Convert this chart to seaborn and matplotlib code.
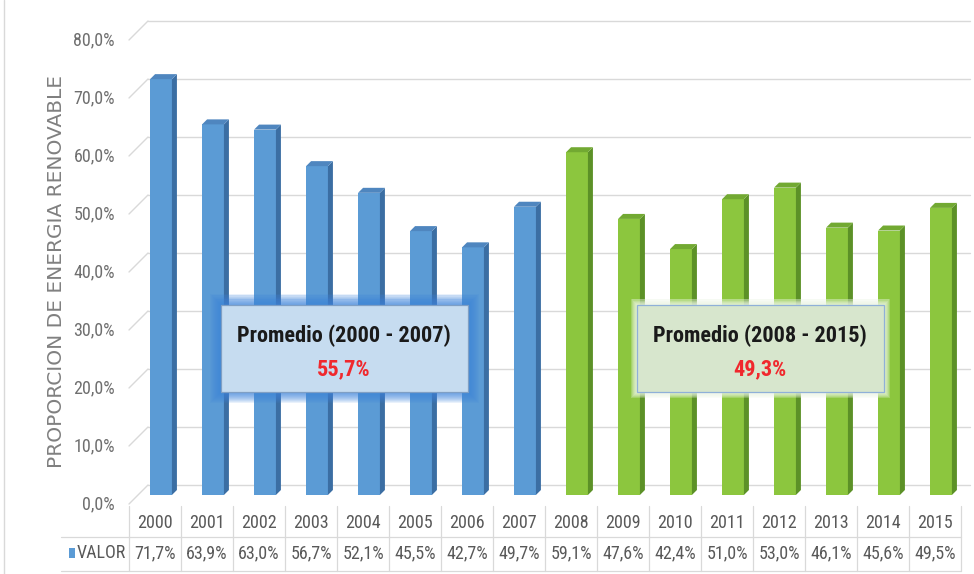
import numpy as np
import pandas as pd
import matplotlib
matplotlib.use("Agg")
import matplotlib.pyplot as plt
import seaborn as sns
from matplotlib import font_manager as fm
from matplotlib.patches import Polygon, Rectangle
from matplotlib.lines import Line2D
from matplotlib.transforms import blended_transform_factory

# ---- data -------------------------------------------------------------
years = [2000, 2001, 2002, 2003, 2004, 2005, 2006, 2007,
         2008, 2009, 2010, 2011, 2012, 2013, 2014, 2015]
valor = [71.7, 63.9, 63.0, 56.7, 52.1, 45.5, 42.7, 49.7,
         59.1, 47.6, 42.4, 51.0, 53.0, 46.1, 45.6, 49.5]
periodos = ["2000 - 2007"] * 8 + ["2008 - 2015"] * 8
y_ticks = [0, 10, 20, 30, 40, 50, 60, 70, 80]
y_label = "PROPORCION DE ENERGIA RENOVABLE"
series_name = "VALOR"
box_title = "Promedio ({})"

df = pd.DataFrame({"anio": [str(y) for y in years], "valor": valor, "periodo": periodos})

# ---- style ------------------------------------------------------------
front = {"2000 - 2007": "#5b9bd5", "2008 - 2015": "#8cc63e"}
side = {"2000 - 2007": "#3b6ea3", "2008 - 2015": "#5c9127"}
top = {"2000 - 2007": "#4f86bf", "2008 - 2015": "#72a932"}
box_fill = {"2000 - 2007": "#c6dcf0", "2008 - 2015": "#d7e6cd"}
grid_c = "#d9d9d9"
text_c = "#595959"

sns.set_theme(style="white")
plt.rcParams["font.family"] = ["DejaVu Sans"]

# pick a narrow face for the numbers and box titles
available = {f.name for f in fm.fontManager.ttflist}
narrow = {"family": ["DejaVu Sans"], "stretch": "condensed"}
for cand in ["Liberation Sans Narrow", "Roboto Condensed", "Open Sans Condensed"]:
    if cand in available:
        narrow = {"family": [cand, "DejaVu Sans"], "stretch": "normal"}
        break
NFAM, NSTR = narrow["family"], narrow["stretch"]
FS = 13          # table / axis numbers

W, H = 974, 574
fig = plt.figure(figsize=(W / 100, H / 100), dpi=100)
fig.patch.set_facecolor("white")

# plot area in pixels (front plane)
X0, X1 = 129, 961
Y0, Y1 = 495, 31
ax = fig.add_axes([X0 / W, (H - Y0) / H, (X1 - X0) / W, (Y0 - Y1) / H])

sns.barplot(data=df, x="anio", y="valor", hue="periodo", palette=front,
            dodge=False, width=0.42, saturation=1, legend=False, ax=ax,
            zorder=3, linewidth=0)
bars = list(ax.patches)

ax.set_xlim(-0.5, len(years) - 0.5)
ax.set_ylim(0, 80)
ax.axis("off")

xpp = (len(years)) / (X1 - X0)      # data units per pixel (x)
ypp = 80 / (Y0 - Y1)                # data units per pixel (y)

# 3D depth of the columns
shift = 6 * xpp
dx, dy = 5 * xpp, 5 * ypp
for b, per in zip(bars, periodos):
    b.set_x(b.get_x() + shift)
    x0 = b.get_x()
    x1 = x0 + b.get_width()
    h = b.get_height()
    ax.add_patch(Polygon([(x1, 0), (x1 + dx, dy), (x1 + dx, h + dy), (x1, h)],
                         closed=True, facecolor=side[per], edgecolor="none", zorder=3))
    ax.add_patch(Polygon([(x0, h), (x1, h), (x1 + dx, h + dy), (x0 + dx, h + dy)],
                         closed=True, facecolor=top[per], edgecolor="none", zorder=3))

# back wall gridlines and slanted links to the value labels
wall_up = 10 * ypp
label_down = 9 * ypp
wall_x0 = -0.5 + 19 * xpp
wall_x1 = len(years) - 0.5 + 9 * xpp
for v in y_ticks:
    ax.plot([wall_x0, wall_x1], [v + wall_up, v + wall_up], color=grid_c,
            lw=1.0, zorder=1, clip_on=False)
    ax.plot([-0.5, wall_x0], [v - label_down, v + wall_up], color=grid_c,
            lw=1.0, zorder=1, clip_on=False)
    ax.text(-0.5 - 14 * xpp, v - label_down, f"{v:.1f}%".replace(".", ","),
            ha="right", va="center", fontsize=FS, color="#6f6f6f",
            family=NFAM, fontstretch=NSTR)

# axis title
fig.text(57 / W, 1 - 271 / H, y_label, rotation=90, ha="center", va="center",
         fontsize=14.5, color="#808080", family="DejaVu Sans")

# ---- data table -------------------------------------------------------
tr = blended_transform_factory(ax.transData, fig.transFigure)
fy = lambda py: 1 - py / H
for i, (yr, v) in enumerate(zip(years, valor)):
    ax.text(i, fy(523), str(yr), transform=tr, ha="center", va="center",
            fontsize=FS, color=text_c, clip_on=False, family=NFAM, fontstretch=NSTR)
    ax.text(i, fy(553), f"{v:.1f}%".replace(".", ","), transform=tr,
            ha="center", va="center", fontsize=FS, color=text_c, clip_on=False,
            family=NFAM, fontstretch=NSTR)
for i in range(len(years) + 1):
    ax.add_line(Line2D([i - 0.5, i - 0.5], [fy(506), fy(571)], transform=tr,
                       color=grid_c, lw=0.9, clip_on=False))
left_tab = -0.5 - 68 * xpp
for py in (537, 571):
    ax.add_line(Line2D([left_tab, len(years) - 0.5], [fy(py), fy(py)], transform=tr,
                       color=grid_c, lw=0.9, clip_on=False))
ax.add_patch(Rectangle((-0.5 - 60 * xpp, fy(558)), 6 * xpp, 10 / H, transform=tr,
                       facecolor=front["2000 - 2007"], edgecolor="none", clip_on=False))
ax.text(-0.5 - 52 * xpp, fy(553), series_name, transform=tr, ha="left", va="center",
        fontsize=FS, color=text_c, clip_on=False, family=NFAM, fontstretch=NSTR)

# ---- period average boxes ---------------------------------------------
box_w = 247 * xpp
box_h = 87 * ypp
box_cy = (Y0 - 348) * ypp
for k, per in enumerate(["2000 - 2007", "2008 - 2015"]):
    vals = [v for v, p in zip(valor, periodos) if p == per]
    idx = [i for i, p in enumerate(periodos) if p == per]
    cx = np.mean(idx) + shift + 0.02
    bx, by = cx - box_w / 2, box_cy - box_h / 2
    if k == 0:
        # soft blue glow
        for g in range(11, 0, -1):
            pad_x, pad_y = g * xpp, g * ypp
            ax.add_patch(Rectangle((bx - pad_x, by - pad_y), box_w + 2 * pad_x,
                                   box_h + 2 * pad_y, facecolor="#3c84dc",
                                   edgecolor="none", alpha=0.11, zorder=4))
        edge = "#7f9fc4"
    else:
        for g in range(6, 0, -1):
            pad_x, pad_y = g * xpp, g * ypp
            ax.add_patch(Rectangle((bx - pad_x, by - pad_y), box_w + 2 * pad_x,
                                   box_h + 2 * pad_y, facecolor="#eef6e6",
                                   edgecolor="none", alpha=0.25, zorder=4))
        edge = "#8fb0d8"
    ax.add_patch(Rectangle((bx, by), box_w, box_h, facecolor=box_fill[per],
                           edgecolor=edge, lw=0.9, zorder=5))
    ax.text(cx, (Y0 - 336) * ypp, box_title.format(per), ha="center", va="center",
            fontsize=16, fontweight="bold", color="#1a1a1a", zorder=6,
            family=NFAM, fontstretch=NSTR)
    avg = round(float(np.mean(vals)), 1)
    ax.text(cx, (Y0 - 369) * ypp, f"{avg:.1f}%".replace(".", ","), ha="center",
            va="center", fontsize=16, fontweight="bold", color="#f0282d", zorder=6,
            family=NFAM, fontstretch=NSTR)

# chart border on the left
fig.add_artist(Line2D([4 / W, 4 / W], [0, 1], color=grid_c, lw=1.0))

fig.savefig("out.png", dpi=100, facecolor="white")
